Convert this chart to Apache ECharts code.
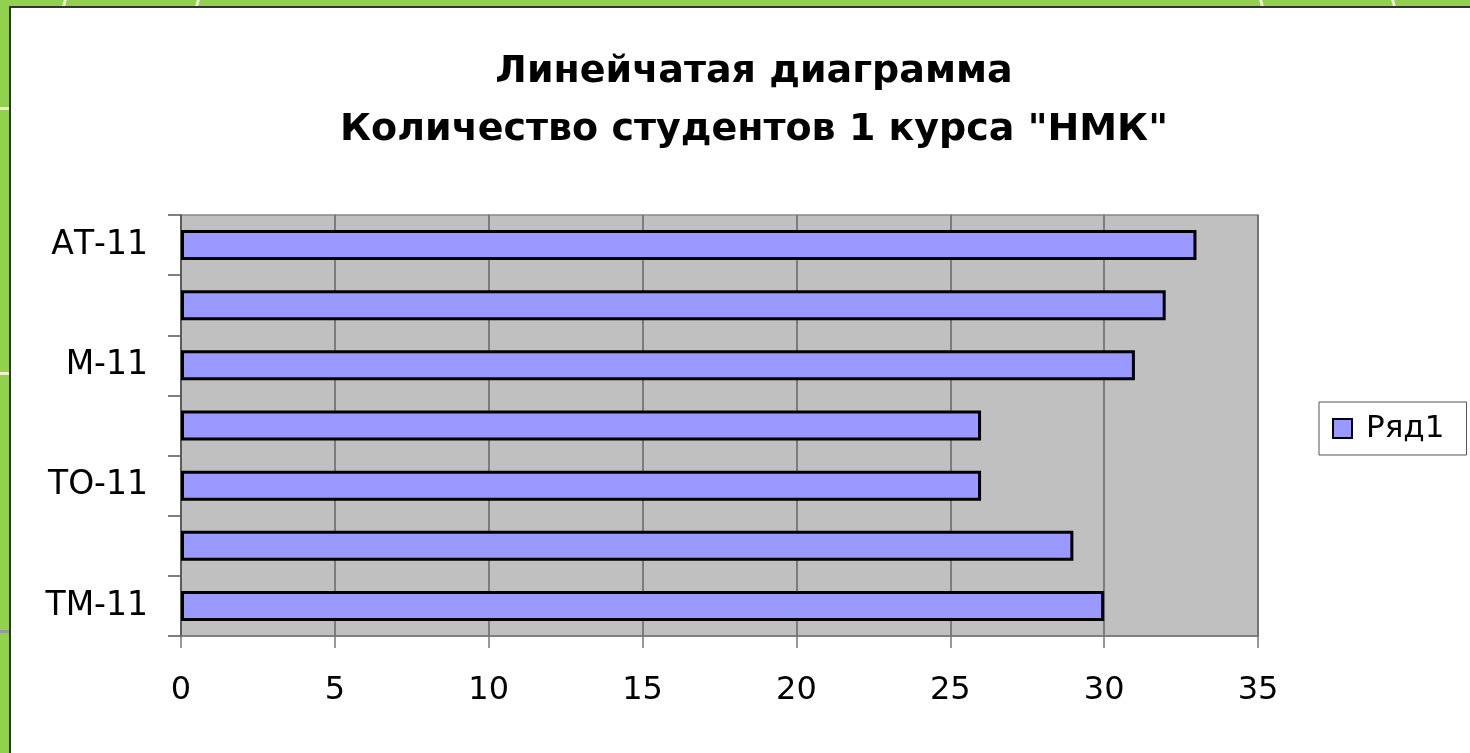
<!DOCTYPE html>
<html><head><meta charset="utf-8">
<script src="https://cdn.jsdelivr.net/npm/echarts@6/dist/echarts.min.js"></script>
<style>
html,body{margin:0;padding:0;width:1470px;height:753px;overflow:hidden;background:#92d050;}
#panel{position:absolute;left:9px;top:6px;width:1461px;height:747px;background:#fff;border-left:2px solid #333;border-top:2px solid #333;box-sizing:border-box;}
.ln{position:absolute;background:#efeed0;}
#chart{position:absolute;left:0;top:0;width:1470px;height:753px;}
</style></head>
<body>
<div class="ln" style="left:63px;top:0;width:3px;height:6px;transform:skewX(-15deg)"></div>
<div class="ln" style="left:196px;top:0;width:3px;height:6px;transform:skewX(-15deg)"></div>
<div class="ln" style="left:1260px;top:0;width:3px;height:6px;transform:skewX(15deg)"></div>
<div class="ln" style="left:1392px;top:0;width:3px;height:6px;transform:skewX(15deg)"></div>
<div class="ln" style="left:0;top:107px;width:9px;height:3px;"></div>
<div class="ln" style="left:0;top:372px;width:9px;height:3px;"></div>
<div class="ln" style="left:0;top:630px;width:9px;height:3px;background:#999"></div>
<div id="panel"></div>
<div id="chart"></div>
<script>
var titleLines = ['Линейчатая диаграмма', 'Количество студентов 1 курса "НМК"'];
var categories = ['АТ-11', '', 'М-11', '', 'ТО-11', '', 'ТМ-11'];
var values = [33, 32, 31, 26, 26, 29, 30];
var seriesName = 'Ряд1';
var xMin = 0, xMax = 35, xStep = 5;

var chart = echarts.init(document.getElementById('chart'));
chart.setOption({
  backgroundColor: 'transparent',
  animation: false,
  title: {
    text: titleLines.join('\n'),
    left: 749, top: 38, textAlign: 'center',
    textStyle: {fontFamily: 'DejaVu Sans', fontSize: 38, fontWeight: 'bold', lineHeight: 58, color: '#000'}
  },
  legend: {
    data: [seriesName],
    left: 1319, top: 402,
    orient: 'vertical',
    padding: [10, 22, 10, 13],
    borderColor: '#555', borderWidth: 1,
    itemWidth: 19, itemHeight: 19, itemGap: 0,
    icon: 'rect',
    textStyle: {fontFamily: 'DejaVu Sans', fontSize: 31, color: '#000', padding: [0, 0, 0, 9], lineHeight: 33}
  },
  grid: {
    left: 181, top: 215, width: 1077, height: 421,
    show: true, backgroundColor: '#c0c0c0', borderColor: '#888', borderWidth: 1.5,
    containLabel: false
  },
  xAxis: {
    type: 'value', min: xMin, max: xMax, interval: xStep,
    axisLine: {show: true, lineStyle: {color: '#777', width: 1.5}},
    axisTick: {show: true, length: 12, inside: false, lineStyle: {color: '#777', width: 1.5}},
    splitLine: {show: true, lineStyle: {color: '#666', width: 1.5}},
    axisLabel: {margin: 39, fontFamily: 'DejaVu Sans', fontSize: 32, color: '#000'}
  },
  yAxis: {
    type: 'category', data: categories, inverse: true,
    axisLine: {show: true, lineStyle: {color: '#555', width: 1.5}},
    axisTick: {show: true, length: 13, interval: 0, alignWithLabel: false, lineStyle: {color: '#555', width: 1.5}},
    splitLine: {show: false},
    axisLabel: {interval: 0, margin: 33, fontFamily: 'DejaVu Sans', fontSize: 33, color: '#000'}
  },
  series: [{
    name: seriesName, type: 'bar', data: values,
    barWidth: 30,
    itemStyle: {color: '#9999ff', borderColor: '#000', borderWidth: 3}
  }]
});
</script>
</body></html>
